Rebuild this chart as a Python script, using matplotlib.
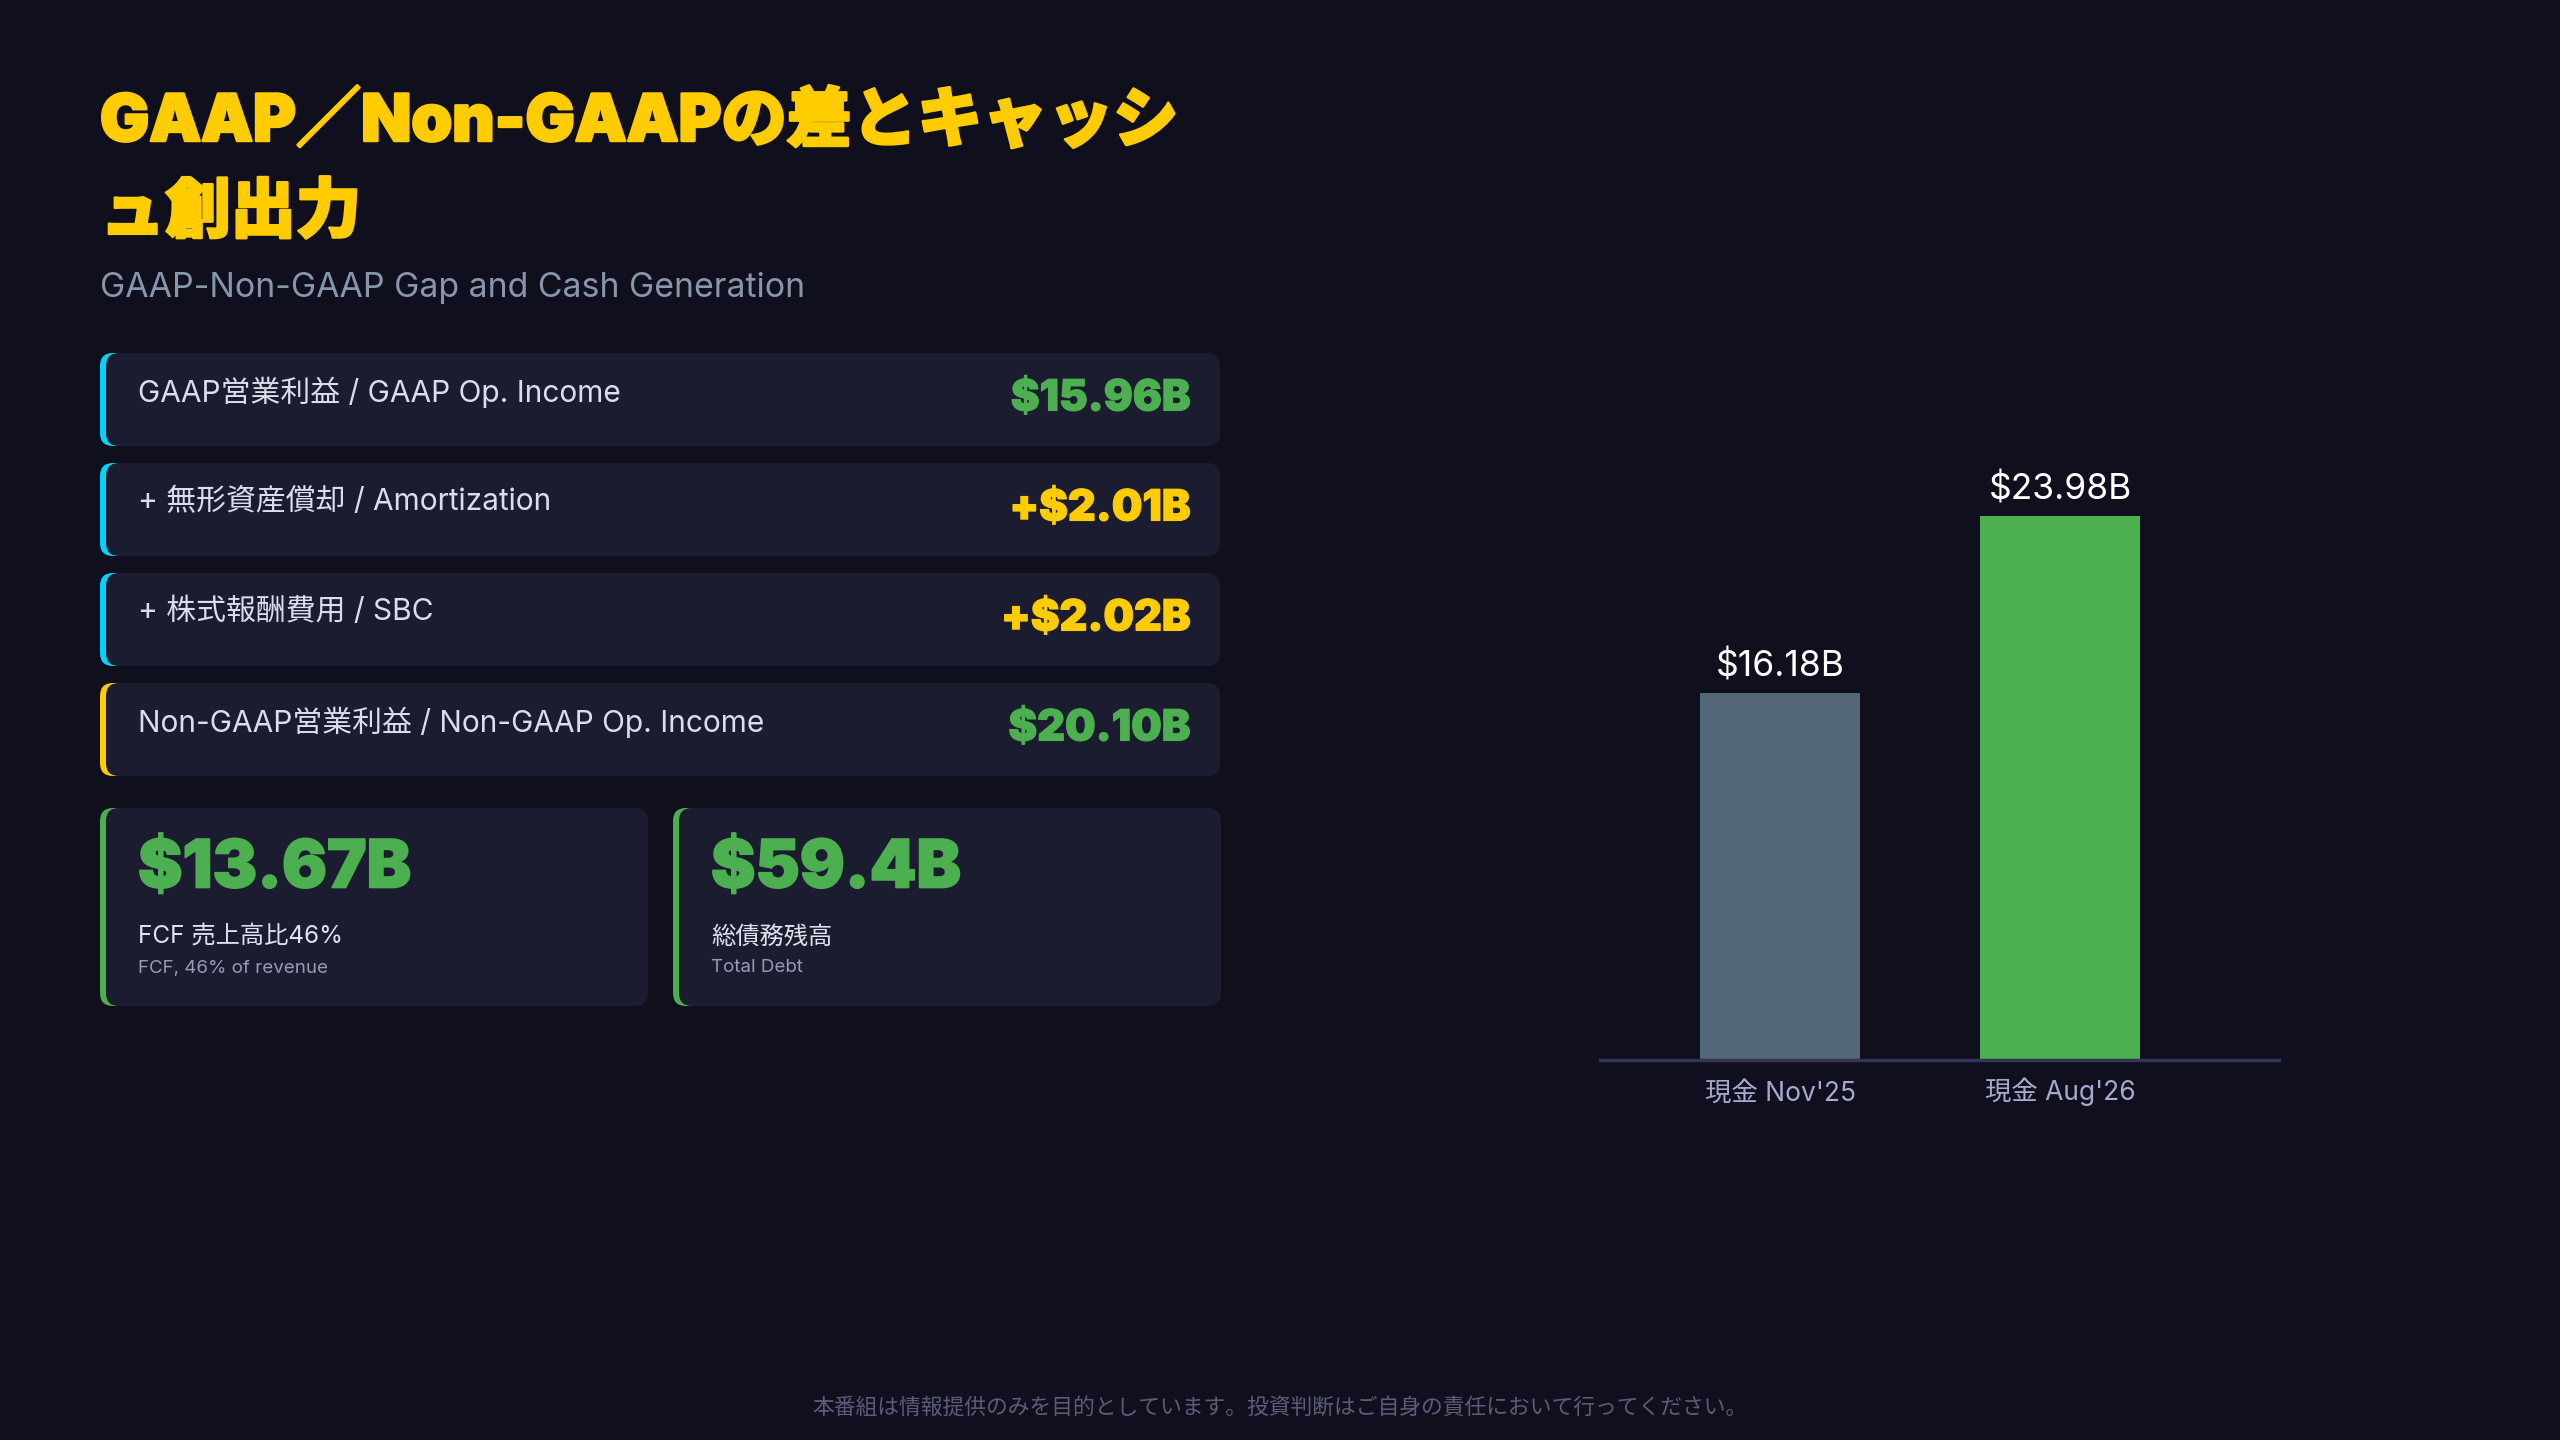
import matplotlib
matplotlib.use('Agg')
import matplotlib.pyplot as plt
import matplotlib.patheffects as pe
from matplotlib.patches import FancyBboxPatch

plt.rcParams['font.family'] = ['Inter', 'Noto Sans CJK JP', 'DejaVu Sans']

# --- data ---
title_lines = ['GAAP／Non-GAAPの差とキャッシ', 'ュ創出力']
subtitle = 'GAAP-Non-GAAP Gap and Cash Generation'

bridge_labels = ['GAAP営業利益 / GAAP Op. Income',
                 '+ 無形資産償却 / Amortization',
                 '+ 株式報酬費用 / SBC',
                 'Non-GAAP営業利益 / Non-GAAP Op. Income']
bridge_values = ['$15.96B', '+$2.01B', '+$2.02B', '$20.10B']

kpi_values = ['$13.67B', '$59.4B']
kpi_labels = ['FCF 売上高比46%', '総債務残高']
kpi_sublabels = ['FCF, 46% of revenue', 'Total Debt']

cash_labels = ["現金 Nov'25", "現金 Aug'26"]
cash_values = [16.18, 23.98]

footer = '本番組は情報提供のみを目的としています。投資判断はご自身の責任において行ってください。'

# --- styles ---
BG = '#0f0f1d'
CARD = '#1b1c2f'
YELLOW = '#ffcc00'
GREEN = '#4caf50'
CYAN = '#00d4ff'
SLATE = '#546778'

bridge_accent = [CYAN, CYAN, CYAN, YELLOW]
bridge_vcolor = [GREEN, YELLOW, YELLOW, GREEN]


def heavy(color, w=2.0):
    # fake a black weight by stroking the glyph outline
    return [pe.withStroke(linewidth=w, foreground=color)]


def card(ax, x, y, w, h, accent, r=13, bw=6):
    # accent strip first, then the card body shifted right over it
    ax.add_patch(FancyBboxPatch((x, y), 4 * r, h,
                                boxstyle='round,pad=0,rounding_size=%d' % r,
                                fc=accent, ec='none', zorder=1))
    ax.add_patch(FancyBboxPatch((x + bw, y), w - bw, h,
                                boxstyle='round,pad=0,rounding_size=%d' % r,
                                fc=CARD, ec='none', zorder=2))


fig = plt.figure(figsize=(25.6, 14.4), dpi=100, facecolor=BG)
ax = fig.add_axes([0, 0, 1, 1])
ax.set_xlim(0, 2560)
ax.set_ylim(1440, 0)
ax.axis('off')

# title + subtitle
for k, yb in enumerate([141, 232]):
    ax.text(100, yb, title_lines[k], fontsize=47, fontweight='black',
            color=YELLOW, va='baseline', ha='left',
            path_effects=heavy(YELLOW, 1.8))
ax.text(100, 288, subtitle, fontsize=24.4, color='#8796aa',
        va='center', ha='left')

# bridge rows
row_top = 353
row_step = 110
row_h = 93
for i, (lab, val) in enumerate(zip(bridge_labels, bridge_values)):
    y0 = row_top + i * row_step
    card(ax, 100, y0, 1120, row_h, bridge_accent[i])
    ax.text(138, y0 + 39, lab, fontsize=21.5, color='#dcdcea',
            va='center', ha='left', zorder=3)
    ax.text(1191, y0 + 46, val, fontsize=31, fontweight='black',
            color=bridge_vcolor[i], va='center', ha='right', zorder=3,
            path_effects=heavy(bridge_vcolor[i], 0.8))

# KPI boxes
kpi_x = [100, 673]
for i in range(2):
    x0 = kpi_x[i]
    card(ax, x0, 808, 548, 198, GREEN)
    ax.text(x0 + 38, 870, kpi_values[i], fontsize=48, fontweight='black',
            color=GREEN, va='center', ha='left', zorder=3,
            path_effects=heavy(GREEN, 1.2))
    ax.text(x0 + 38, 937, kpi_labels[i], fontsize=17.5, color='#e2e2ee',
            va='center', ha='left', zorder=3)
    ax.text(x0 + 38, 968, kpi_sublabels[i], fontsize=13.5, color='#9a9ab4',
            va='center', ha='left', zorder=3)

# footer
ax.text(1280, 1407, footer, fontsize=15.7, color='#5c5c7a',
        va='center', ha='center')

# cash bar chart
bx = fig.add_axes([1600 / 2560, (1440 - 1060) / 1440, 679 / 2560, 681 / 1440])
bx.set_facecolor('none')
pos = range(len(cash_values))
bars = bx.bar(pos, cash_values, width=0.571, color=[SLATE, GREEN], zorder=2)
bx.set_xlim(-0.643, 1.782)
bx.set_ylim(0, 30)
for b, v in zip(bars, cash_values):
    bx.annotate('$%.2fB' % v, (b.get_x() + b.get_width() / 2, v),
                xytext=(0, 26), textcoords='offset pixels',
                ha='center', va='center', fontsize=25.5, color='white')
bx.set_xticks(list(pos))
bx.set_xticklabels(cash_labels, fontsize=19, color='#a9a9cf')
bx.tick_params(axis='x', length=0, pad=29)
for t in bx.get_xticklabels():
    t.set_va('baseline')
bx.set_yticks([])
for s in ['top', 'right', 'left']:
    bx.spines[s].set_visible(False)
bx.spines['bottom'].set_color('#35355a')
bx.spines['bottom'].set_linewidth(2.5)

fig.savefig('out.png', dpi=100, facecolor=BG)
